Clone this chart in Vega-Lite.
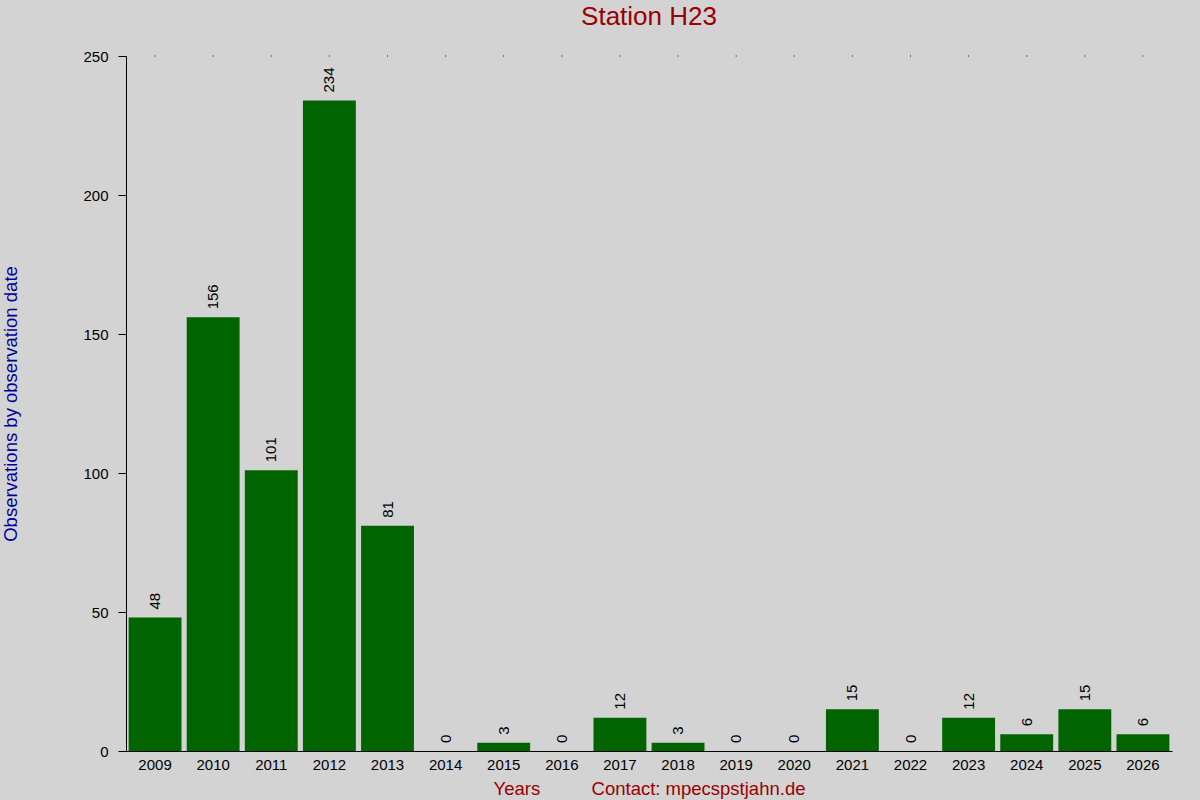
{
  "$schema": "https://vega.github.io/schema/vega-lite/v6.json",
  "width": 1046,
  "height": 695,
  "autosize": "none",
  "padding": {"left": 126, "top": 56, "right": 28, "bottom": 49},
  "background": "#d3d3d3",
  "config": {
    "font": "Liberation Sans",
    "view": {"stroke": null},
    "axis": {"grid": false, "domainColor": "#000000", "tickColor": "#000000", "labelColor": "#000000", "labelFontSize": 15}
  },
  "title": {
    "text": "Station H23",
    "color": "#990000",
    "fontSize": 26,
    "fontWeight": "normal",
    "anchor": "middle",
    "offset": 19
  },
  "data": {
    "values": [
      {"year": "2009", "count": 48},
      {"year": "2010", "count": 156},
      {"year": "2011", "count": 101},
      {"year": "2012", "count": 234},
      {"year": "2013", "count": 81},
      {"year": "2014", "count": 0},
      {"year": "2015", "count": 3},
      {"year": "2016", "count": 0},
      {"year": "2017", "count": 12},
      {"year": "2018", "count": 3},
      {"year": "2019", "count": 0},
      {"year": "2020", "count": 0},
      {"year": "2021", "count": 15},
      {"year": "2022", "count": 0},
      {"year": "2023", "count": 12},
      {"year": "2024", "count": 6},
      {"year": "2025", "count": 15},
      {"year": "2026", "count": 6}
    ]
  },
  "encoding": {
    "x": {
      "field": "year",
      "type": "ordinal",
      "scale": {"paddingInner": 0.09, "paddingOuter": 0.045},
      "axis": {
        "labelAngle": 0,
        "ticks": false,
        "labelPadding": 6,
        "title": "Years\u00a0\u00a0\u00a0\u00a0\u00a0\u00a0\u00a0\u00a0\u00a0\u00a0Contact: mpecspstjahn.de",
        "titleColor": "#990000",
        "titleFontSize": 18.5,
        "titleFontWeight": "normal",
        "titlePadding": 7
      }
    }
  },
  "layer": [
    {
      "mark": {"type": "bar", "color": "#006400"},
      "encoding": {
        "y": {
          "field": "count",
          "type": "quantitative",
          "scale": {"domain": [0, 250], "nice": false},
          "axis": {
            "values": [0, 50, 100, 150, 200, 250],
            "tickSize": 8,
            "labelPadding": 10,
            "title": "Observations by observation date",
            "titleColor": "#000099",
            "titleFontSize": 18.5,
            "titleFontWeight": "normal",
            "titlePadding": 62
          }
        }
      }
    },
    {
      "mark": {"type": "text", "angle": 270, "align": "left", "baseline": "middle", "dx": 8, "fontSize": 15, "color": "#000000"},
      "encoding": {
        "y": {"field": "count", "type": "quantitative"},
        "text": {"field": "count", "type": "quantitative"}
      }
    },
    {
      "mark": {"type": "point", "shape": "square", "size": 1, "filled": true, "color": "#000000", "opacity": 1},
      "encoding": {
        "y": {"datum": 250}
      }
    }
  ]
}
